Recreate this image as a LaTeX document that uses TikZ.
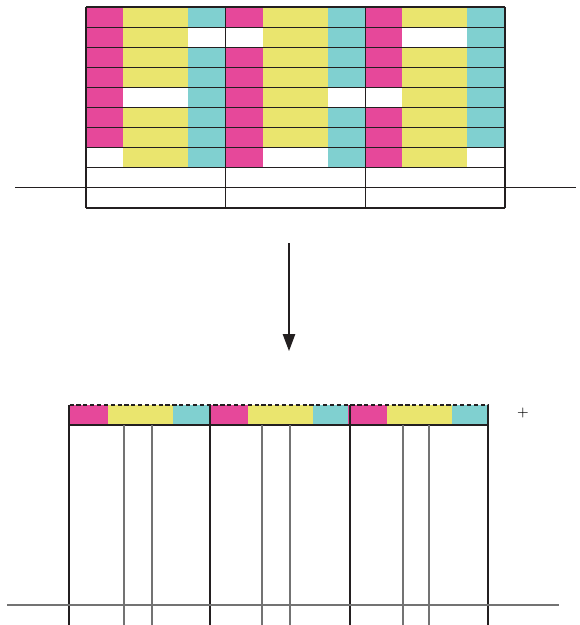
\documentclass[tikz,border=0pt]{standalone}
\usetikzlibrary{calc, positioning}
\usetikzlibrary{arrows.meta}

\definecolor{cellpink}{HTML}{E6489A}
\definecolor{cellyellow}{HTML}{EAE56E}
\definecolor{cellcyan}{HTML}{80D0D0}
\definecolor{rulegray}{HTML}{231F20}

\tikzset{
  rule/.style={draw=rulegray, line width=0.6pt},
  thinrule/.style={draw=black!55, line width=0.6pt},
}

\begin{document}
\begin{tikzpicture}[x=0.02cm, y=-0.02cm]
\useasboundingbox (0,0) rectangle (579,625);

% top table
\def\xL{86}
\def\yT{7}
\def\rowh{20.1}
\def\grpw{139.67}

\foreach \g in {0,1,2} {
  \pgfmathsetmacro{\gx}{\xL+\g*\grpw}
  \fill[cellpink]   (\gx,\yT) rectangle ({\gx+37},{\yT+8*\rowh});
  \fill[cellyellow] ({\gx+37},\yT) rectangle ({\gx+102},{\yT+8*\rowh});
  \fill[cellcyan]   ({\gx+102},\yT) rectangle ({\gx+\grpw},{\yT+8*\rowh});
}

% empty cells (row, group, left offset, right offset)
\foreach \r/\g/\a/\b in {1/0/102/139.67, 1/1/0/37, 1/2/37/102,
                         4/0/37/102, 4/1/102/139.67, 4/2/0/37,
                         7/0/0/37, 7/1/37/102, 7/2/102/139.67} {
  \pgfmathsetmacro{\gx}{\xL+\g*\grpw}
  \fill[white] ({\gx+\a},{\yT+\r*\rowh}) rectangle ({\gx+\b},{\yT+(\r+1)*\rowh});
}

\foreach \i in {0,...,8,10}
  \draw[rule] (\xL,{\yT+\i*\rowh}) -- ({\xL+3*\grpw},{\yT+\i*\rowh});
\coordinate (baseL) at (15,{\yT+9*\rowh});
\coordinate (baseR) at (576,{\yT+9*\rowh});
\draw[rule] (baseL) -- (baseR);

\foreach \g in {0,1,2,3}
  \draw[rule] ({\xL+\g*\grpw},\yT) -- ({\xL+\g*\grpw},{\yT+10*\rowh});

% arrow
\coordinate (arrowtop) at (289,243);
\coordinate (arrowtip) at (289,351);
\draw[rule, -{Triangle[length=0.34cm, width=0.25cm]}] (arrowtop) -- (arrowtip);

% bottom strip
\def\bL{69}
\def\bT{405}
\def\bB{425}
\foreach \g in {0,1,2} {
  \pgfmathsetmacro{\gx}{\bL+\g*\grpw}
  \fill[cellpink]   (\gx,\bT) rectangle ({\gx+39},\bB);
  \fill[cellyellow] ({\gx+39},\bT) rectangle ({\gx+104},\bB);
  \fill[cellcyan]   ({\gx+104},\bT) rectangle ({\gx+\grpw},\bB);
}
\draw[rule, dash pattern=on 2.4pt off 1.5pt] (\bL,\bB) -- (\bL,\bT) -- (488,\bT) -- (488,\bB);
\draw[rule] (\bL,\bB) -- (488,\bB);

\foreach \x in {69,210,350,488}
  \draw[rule] (\x,\bT) -- (\x,625);
\foreach \x in {124,152,262,290,403,429}
  \draw[thinrule] (\x,\bB) -- (\x,625);

\coordinate (floorL) at (7,605);
\coordinate (floorR) at (559,605);
\draw[thinrule] (floorL) -- (floorR);

\node[font=\footnotesize, inner sep=1pt] (plus) at (523,413) {+};
\end{tikzpicture}
\end{document}
